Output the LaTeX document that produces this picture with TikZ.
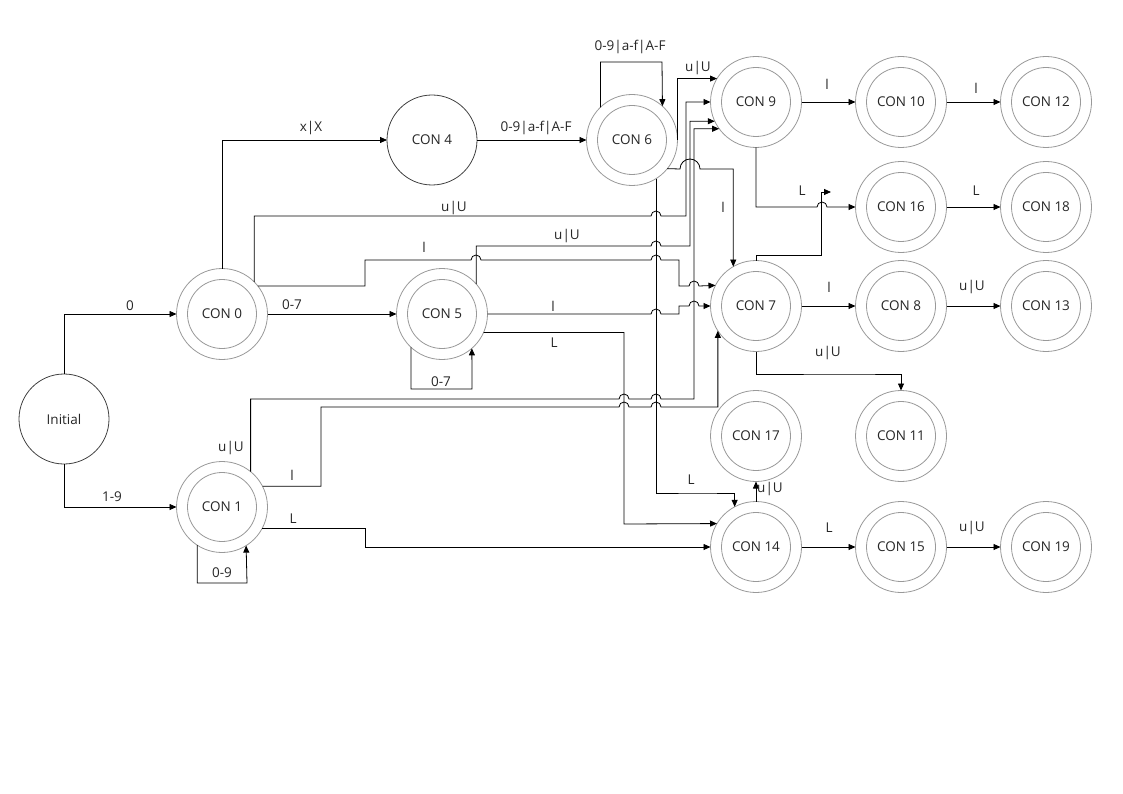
\documentclass[tikz,border=0pt]{standalone}
\usepackage{fontspec}
\setmainfont{Open Sans}
\usetikzlibrary{arrows.meta}
\begin{document}
\begin{tikzpicture}[x=1pt,y=-1pt,
  every node/.style={font=\fontsize{13.5}{16}\selectfont, text=black!85},
  st/.style={circle, draw=black!40, line width=0.8pt, minimum size=91pt, inner sep=0pt, outer sep=0pt},
  plainst/.style={circle, draw=black!75, line width=0.8pt, minimum size=90pt, inner sep=0pt, outer sep=0pt},
  edge/.style={draw=black, line width=0.8pt, -{Triangle[length=7pt,width=6pt]}},
  lab/.style={inner sep=0pt},
  hop/.style={}]
\useasboundingbox (0,0) rectangle (1123,794);
% states
\node[plainst] (ini) at (64,419) {Initial};
\node[st] (c0) at (222,314) {CON 0};
\node[st] (c1) at (222,507) {CON 1};
\node[plainst] (c4) at (432,140) {CON 4};
\node[st] (c5) at (442,314) {CON 5};
\node[st] (c6) at (632,140) {CON 6};
\node[st] (c9) at (756,102) {CON 9};
\node[st] (c10) at (901,102) {CON 10};
\node[st] (c12) at (1046,102) {CON 12};
\node[st] (c16) at (901,207) {CON 16};
\node[st] (c18) at (1046,207) {CON 18};
\node[st] (c7) at (756,306) {CON 7};
\node[st] (c8) at (901,306) {CON 8};
\node[st] (c13) at (1046,306) {CON 13};
\node[st] (c17) at (756,436) {CON 17};
\node[st] (c11) at (901,436) {CON 11};
\node[st] (c14) at (756,547) {CON 14};
\node[st] (c15) at (901,547) {CON 15};
\node[st] (c19) at (1046,547) {CON 19};
\foreach \n in {c0,c1,c5,c6,c9,c10,c12,c16,c18,c7,c8,c13,c17,c11,c14,c15,c19}
  \draw[black!40, line width=0.8pt] (\n.center) circle[radius=34.5pt];
\coordinate (dang) at (831,192);
% connectors
\draw[edge] (ini.north) |- (c0.west);
\draw[edge] (ini.south) |- (c1.west);
\draw[edge] (c1.237.4) |- (247,583) -- (c1.302.6);
\draw[edge] (c0.east) -- (c5.west);
\draw[edge] (c5.227.1) |- (472,389) -- (c5.311.3);
\draw[edge] (c0.north) |- (c4.west);
\draw[edge] (c4.east) -- (c6.west);
\draw[edge] (c6.134.7) |- (662,62) -- (c6.48.7);
\draw[edge] (c6.east) |- (c9.149.3);
\draw[edge] (c0.45) |- (651,216) arc[start angle=180,end angle=0,radius=5pt] -- (686,216) |- (c9.west);
\draw[edge] (c5.41.6) |- (651,246) arc[start angle=180,end angle=0,radius=5pt] -- (690,246) |- (c9.205);
\draw[edge] (c1.51.2) |- (619,399) arc[start angle=180,end angle=0,radius=5pt] -- (651,399) arc[start angle=180,end angle=0,radius=5pt] -- (694,399) |- (c9.216.4);
\draw[edge] (c6.-39.6) -- (680,169) arc[start angle=180,end angle=0,radius=10pt] -| (c7.120.4);
\draw[edge] (c6.-58.2) |- (700,493) -| (c14.118.9);
\draw[edge] (c0.38) -| (365,260) -- (471,260) arc[start angle=180,end angle=0,radius=5pt] -- (651,260) arc[start angle=180,end angle=0,radius=5pt] -- (679,260) -- (679,286) -- (689,286) arc[start angle=180,end angle=0,radius=5pt] -- (c7.153.9);
\draw[edge] (c5.east) -- (651,314) arc[start angle=180,end angle=0,radius=5pt] -- (679,314) -- (679,306) -- (689,306) arc[start angle=180,end angle=0,radius=5pt] -- (c7.west);
\draw[edge] (c5.-24.7) -| (624,524) -- (c14.149.6);
\draw[edge] (c1.27.5) -| (321,407) -- (619,407) arc[start angle=180,end angle=0,radius=5pt] -- (651,407) arc[start angle=180,end angle=0,radius=5pt] -- (661,407) -| (c7.213.4);
\draw[edge] (c1.-28.9) -| (365,547) -- (c14.west);
\draw[edge] (c9.east) -- (c10.west);
\draw[edge] (c10.east) -- (c12.west);
\draw[edge] (c9.south) |- (817,207) arc[start angle=180,end angle=0,radius=5pt] -- (c16.west);
\draw[edge] (c16.east) -- (c18.west);
\draw[edge] (c7.north) -- (756,255) -| (821,192) -- (dang);
\draw[edge] (c7.east) -- (c8.west);
\draw[edge] (c8.east) -- (c13.west);
\draw[edge] (c7.south) |- (850,374) -| (c11.north);
\draw[edge] (c14.north) -- (c17.south);
\draw[edge] (c14.east) -- (c15.west);
\draw[edge] (c15.east) -- (c19.west);
% labels
\node[lab] (t1) at (130,306) {0};
\node[lab] (t2) at (112,497) {1-9};
\node[lab] (t3) at (222,573) {0-9};
\node[lab] (t4) at (292,305) {0-7};
\node[lab] (t5) at (441,382) {0-7};
\node[lab] (t6) at (311,128) {x|X};
\node[lab] (t7) at (536,128) {0-9|a-f|A-F};
\node[lab] (t8) at (630,47) {0-9|a-f|A-F};
\node[lab] (t9) at (698,68) {u|U};
\node[lab] (t10) at (454,208) {u|U};
\node[lab] (t11) at (567,236) {u|U};
\node[lab] (t12) at (424,247) {l};
\node[lab] (t13) at (553,306) {l};
\node[lab] (t14) at (554,343) {L};
\node[lab] (t15) at (723,207) {l};
\node[lab] (t16) at (691,480) {L};
\node[lab] (t17) at (231,448) {u|U};
\node[lab] (t18) at (292,475) {l};
\node[lab] (t19) at (293,519) {L};
\node[lab] (t20) at (770,489) {u|U};
\node[lab] (t21) at (802,191) {L};
\node[lab] (t22) at (827,84) {l};
\node[lab] (t23) at (976,88) {l};
\node[lab] (t24) at (976,191) {L};
\node[lab] (t25) at (829,287) {l};
\node[lab] (t26) at (972,287) {u|U};
\node[lab] (t27) at (828,353) {u|U};
\node[lab] (t28) at (829,528) {L};
\node[lab] (t29) at (972,528) {u|U};
\end{tikzpicture}
\end{document}
